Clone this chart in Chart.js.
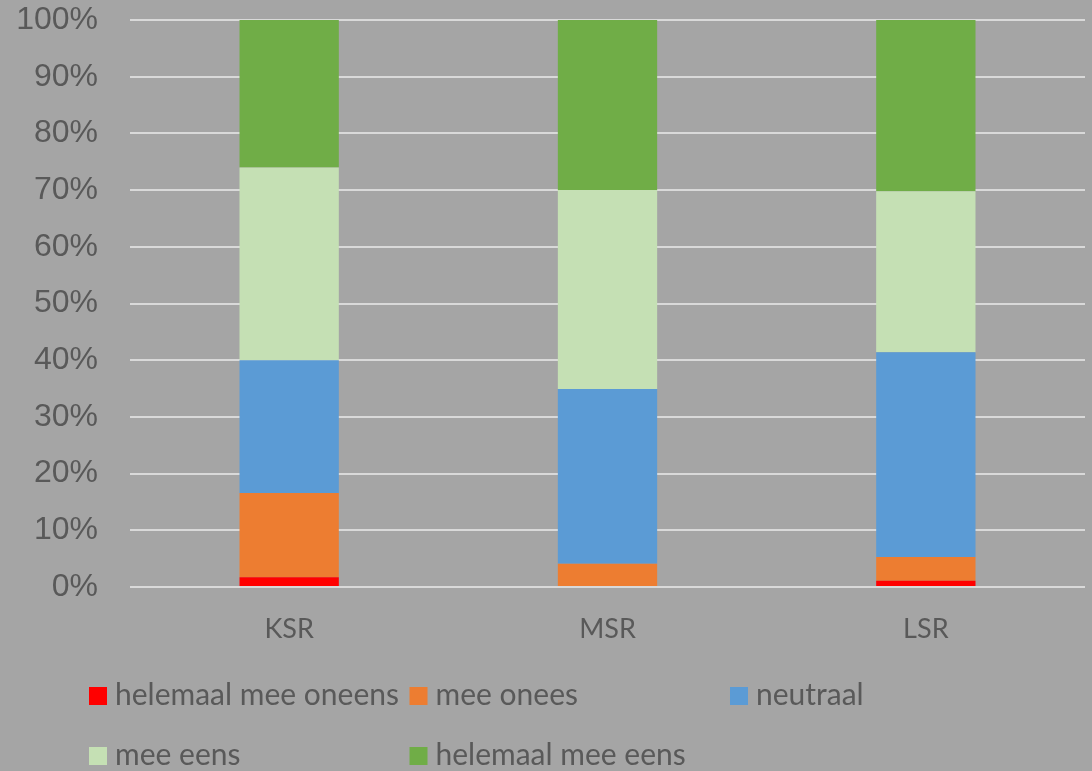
<!DOCTYPE html>
<html>
<head>
<meta charset="utf-8">
<script src="https://cdn.jsdelivr.net/npm/chart.js@4/dist/chart.umd.min.js"></script>
<style>
  body { margin: 0; background: #a5a5a5; }
  #wrap { width: 1092px; height: 771px; }
</style>
</head>
<body>
<div id="wrap"><canvas id="chart_S" width="1092" height="771"></canvas></div>
<script>
/* ------------------
    Data
-------------------*/
var schools = ['KSR', 'MSR', 'LSR'];

var helemaalOneens = [1.7, 0.0, 1.1];
var meeOnees       = [14.9, 4.1, 4.2];
var neutraal       = [23.4, 30.8, 36.1];
var meeEens        = [34.0, 35.1, 28.4];
var helemaalEens   = [26.0, 30.0, 30.2];

var yTicks = [0, 10, 20, 30, 40, 50, 60, 70, 80, 90, 100];

/* ------------------
    Legend drawn as a grid (3 columns)
-------------------*/
var gridLegend = {
  id: 'gridLegend',
  afterDraw: function (chart, args, opts) {
    var ctx = chart.ctx;
    ctx.save();
    ctx.font = opts.font;
    ctx.textBaseline = 'alphabetic';
    ctx.textAlign = 'left';
    chart.data.datasets.forEach(function (ds, i) {
      var col = i % opts.columns;
      var row = Math.floor(i / opts.columns);
      var x = opts.left + col * opts.colWidth;
      var base = opts.top + row * opts.rowHeight;
      ctx.fillStyle = ds.backgroundColor;
      ctx.fillRect(x, base - opts.box, opts.box, opts.box);
      ctx.fillStyle = opts.color;
      ctx.fillText(ds.label, x + opts.box + 8, base);
    });
    ctx.restore();
  }
};

var chart_S = new Chart(document.getElementById('chart_S'), {
  type: 'bar',
  data: {
    labels: schools,
    datasets: [
      { label: 'helemaal mee oneens', data: helemaalOneens, backgroundColor: '#ff0000' },
      { label: 'mee onees',           data: meeOnees,       backgroundColor: '#ed7d31' },
      { label: 'neutraal',            data: neutraal,       backgroundColor: '#5b9bd5' },
      { label: 'mee eens',            data: meeEens,        backgroundColor: '#c5e0b4' },
      { label: 'helemaal mee eens',   data: helemaalEens,   backgroundColor: '#70ad47' }
    ]
  },
  options: {
    responsive: false,
    animation: false,
    layout: { padding: { top: 20, right: 7, bottom: 104, left: 0 } },
    datasets: { bar: { barPercentage: 0.312, categoryPercentage: 1.0 } },
    scales: {
      x: {
        stacked: true,
        grid: { display: false, drawTicks: false },
        border: { display: false },
        ticks: { color: '#595959', padding: 26, font: { family: 'Lato', size: 27 } },
        afterFit: function (scale) { scale.height = 80; }
      },
      y: {
        stacked: true,
        min: 0,
        max: 100,
        afterBuildTicks: function (scale) {
          scale.ticks = yTicks.map(function (v) { return { value: v }; });
        },
        grid: { color: '#d9d9d9', lineWidth: 2, drawTicks: false },
        border: { display: false },
        ticks: {
          color: '#595959',
          padding: 32,
          font: { family: 'Liberation Sans', size: 32 },
          callback: function (v) { return v + '%'; }
        },
        afterFit: function (scale) {
          scale.width = 130;
          scale.paddingTop = 0;
          scale.paddingBottom = 0;
        }
      }
    },
    plugins: {
      legend: { display: false },
      tooltip: { enabled: false },
      gridLegend: {
        font: '30px Lato',
        color: '#595959',
        columns: 3,
        left: 89,
        top: 705,
        colWidth: 320.5,
        rowHeight: 60,
        box: 18
      }
    }
  },
  plugins: [gridLegend]
});
</script>
</body>
</html>
